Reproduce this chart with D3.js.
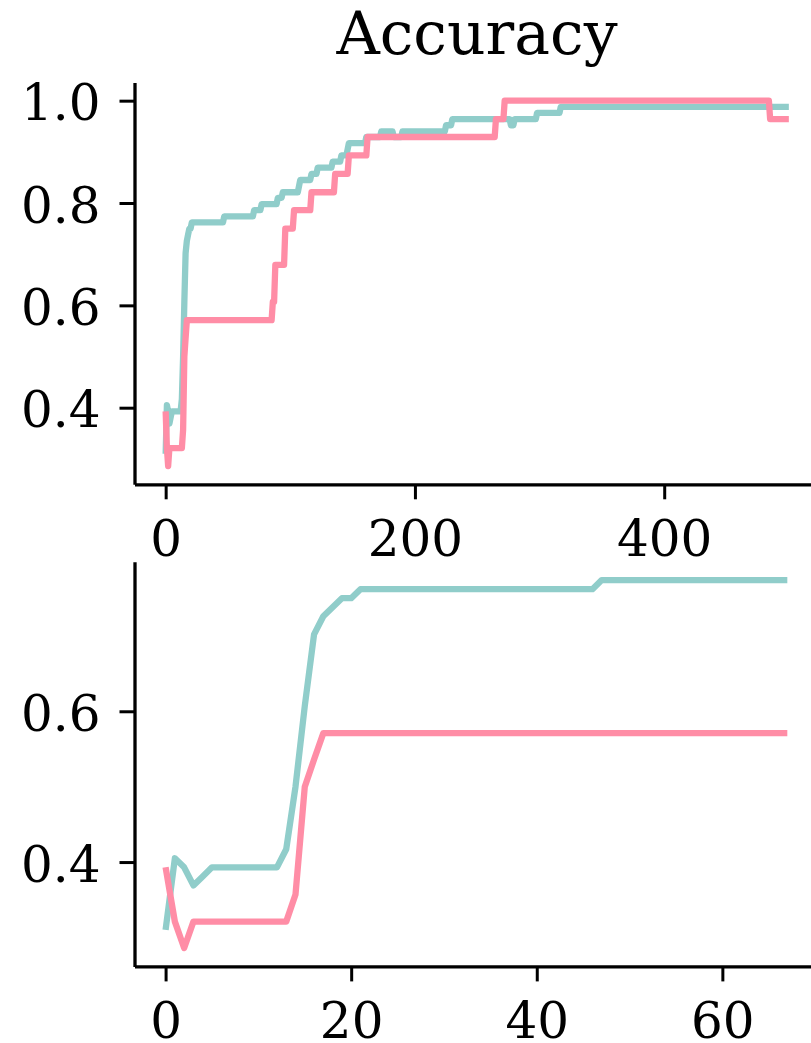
<!DOCTYPE html>
<html>
<head>
<meta charset="utf-8">
<script src="https://cdn.jsdelivr.net/npm/d3@7"></script>
<style>
  html, body { margin: 0; padding: 0; background: #ffffff; }
  svg { display: block; }
</style>
</head>
<body>
<div id="chart"></div>
<script>
// ---------------- data ----------------
const title = "Accuracy";

// first 68 evaluations (shown in the lower, zoomed panel)
const tealHead = [
  0.310, 0.405, 0.393, 0.369, 0.381,
  0.393, 0.393, 0.393, 0.393, 0.393, 0.393, 0.393, 0.393,
  0.417, 0.500, 0.607, 0.702, 0.726, 0.738, 0.750, 0.750,
  0.762, 0.762, 0.762, 0.762, 0.762, 0.762, 0.762, 0.762, 0.762, 0.762,
  0.762, 0.762, 0.762, 0.762, 0.762, 0.762, 0.762, 0.762, 0.762, 0.762,
  0.762, 0.762, 0.762, 0.762, 0.762, 0.762,
  0.774, 0.774, 0.774, 0.774, 0.774, 0.774, 0.774, 0.774, 0.774, 0.774,
  0.774, 0.774, 0.774, 0.774, 0.774, 0.774, 0.774, 0.774, 0.774, 0.774, 0.774
];
const pinkHead = [
  0.393, 0.321, 0.286,
  0.321, 0.321, 0.321, 0.321, 0.321, 0.321, 0.321, 0.321, 0.321, 0.321, 0.321,
  0.357, 0.500, 0.536,
  0.571, 0.571, 0.571, 0.571, 0.571, 0.571, 0.571, 0.571, 0.571, 0.571,
  0.571, 0.571, 0.571, 0.571, 0.571, 0.571, 0.571, 0.571, 0.571, 0.571,
  0.571, 0.571, 0.571, 0.571, 0.571, 0.571, 0.571, 0.571, 0.571, 0.571,
  0.571, 0.571, 0.571, 0.571, 0.571, 0.571, 0.571, 0.571, 0.571, 0.571,
  0.571, 0.571, 0.571, 0.571, 0.571, 0.571, 0.571, 0.571, 0.571, 0.571, 0.571
];

// later evaluations: the series is a staircase; each entry = index where a new value starts
const tealStepAt  = [71, 77, 90, 94, 107, 108, 117, 122, 134, 141, 146, 147, 161, 173, 183, 190, 225, 230, 277, 280, 298, 317];
const tealStepVal = [0.786, 0.798, 0.810, 0.821, 0.833, 0.845, 0.857, 0.869, 0.881, 0.893, 0.905, 0.917, 0.929, 0.940, 0.929, 0.940, 0.952, 0.964, 0.952, 0.964, 0.976, 0.988];
const pinkStepAt  = [86, 88, 96, 103, 117, 136, 147, 162, 265, 272, 485];
const pinkStepVal = [0.607, 0.679, 0.750, 0.786, 0.821, 0.857, 0.893, 0.929, 0.964, 1.000, 0.964];
const lastIndex = 500;

const topXTicks = [0, 200, 400];
const topYTicks = [0.4, 0.6, 0.8, 1.0];
const botXTicks = [0, 20, 40, 60];
const botYTicks = [0.4, 0.6];

const tealColor = "#90cdca";
const pinkColor = "#ff8da6";

// ---------------- build full series (hold each value until the next change) ----------------
function expand(head, at, val, last) {
  const out = head.slice();
  let cur = head[head.length - 1], k = 0;
  for (let i = head.length; i <= last; i++) {
    while (k < at.length && at[k] <= i) { cur = val[k]; k++; }
    out.push(cur);
  }
  return out.map((v, i) => ({ x: i, y: v }));
}
const tealFull = expand(tealHead, tealStepAt, tealStepVal, lastIndex);
const pinkFull = expand(pinkHead, pinkStepAt, pinkStepVal, lastIndex);
const tealZoom = tealHead.map((v, i) => ({ x: i, y: v }));
const pinkZoom = pinkHead.map((v, i) => ({ x: i, y: v }));

// ---------------- drawing ----------------
const W = 811, H = 1043;
const FONT = "'DejaVu Serif', serif";
const svg = d3.select("#chart").append("svg").attr("width", W).attr("height", H);
svg.append("rect").attr("width", W).attr("height", H).attr("fill", "#fff");

function padded(series) {
  const all = series.flat();
  const xe = d3.extent(all, d => d.x), ye = d3.extent(all, d => d.y);
  const xm = (xe[1] - xe[0]) * 0.05, ym = (ye[1] - ye[0]) * 0.05;
  return { x: [xe[0] - xm, xe[1] + xm], y: [ye[0] - ym, ye[1] + ym] };
}

function panel(series, colors, box, xTicks, yTicks) {
  const d = padded(series);
  const x = d3.scaleLinear().domain(d.x).range([box.left, box.right]);
  const y = d3.scaleLinear().domain(d.y).range([box.bottom, box.top]);
  const g = svg.append("g");

  const line = d3.line().x(p => x(p.x)).y(p => y(p.y));
  series.forEach((s, i) => {
    g.append("path").datum(s)
      .attr("d", line)
      .attr("fill", "none")
      .attr("stroke", colors[i])
      .attr("stroke-width", 6.3)
      .attr("stroke-linejoin", "round")
      .attr("stroke-linecap", "butt");
  });

  const ax = g.append("g").attr("transform", `translate(0,${box.bottom})`)
    .call(d3.axisBottom(x).tickValues(xTicks).tickFormat(d3.format("d"))
      .tickSize(15).tickSizeOuter(0).tickPadding(21));
  const ay = g.append("g").attr("transform", `translate(${box.left},0)`)
    .call(d3.axisLeft(y).tickValues(yTicks).tickFormat(d3.format(".1f"))
      .tickSize(15).tickSizeOuter(0).tickPadding(19));

  [ax, ay].forEach(a => {
    a.select(".domain").attr("stroke", "#000").attr("stroke-width", 3.3);
    a.selectAll(".tick line").attr("stroke", "#000").attr("stroke-width", 3);
    a.selectAll(".tick text").attr("fill", "#000")
      .style("font-family", FONT).style("font-size", "50px");
  });
  ay.selectAll(".tick text").attr("dy", "0.38em");
  return { x, y };
}

panel([tealFull, pinkFull], [tealColor, pinkColor],
  { left: 134.5, right: 820, top: 82.4, bottom: 484.3 }, topXTicks, topYTicks);
panel([tealZoom, pinkZoom], [tealColor, pinkColor],
  { left: 134.5, right: 818.4, top: 561.7, bottom: 966.4 }, botXTicks, botYTicks);

svg.append("text")
  .attr("x", 477).attr("y", 53.5)
  .attr("text-anchor", "middle")
  .style("font-family", FONT).style("font-size", "60px")
  .attr("fill", "#000")
  .text(title);
</script>
</body>
</html>
